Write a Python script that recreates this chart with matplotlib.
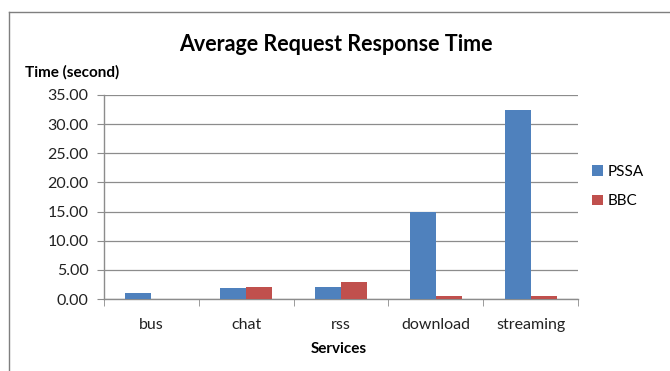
import numpy as np
import matplotlib.pyplot as plt
from matplotlib.lines import Line2D

services = ['bus', 'chat', 'rss', 'download', 'streaming']
pssa = [1.0, 1.9, 2.1, 14.9, 32.4]
bbc = [0.0, 2.1, 3.0, 0.55, 0.55]

plt.rcParams['font.family'] = ['Lato', 'DejaVu Sans']

fig = plt.figure(figsize=(6.7, 3.71), dpi=100)
ax = fig.add_axes([0.155, 0.194, 0.708, 0.550])

x = np.arange(len(services))
w = 0.275
ax.bar(x - w / 2, pssa, w, color='#4F81BD', label='PSSA', zorder=3)
ax.bar(x + w / 2, bbc, w, color='#C0504D', label='BBC', zorder=3)

ax.set_xlim(-0.5, len(services) - 0.5)
ax.set_ylim(0, 35)
ax.set_yticks(np.arange(0, 36, 5))
ax.set_yticklabels([f'{v:.2f}' for v in np.arange(0, 36, 5)], fontsize=11.5, color='#222222')
ax.yaxis.grid(True, color='#8c8c8c', linewidth=0.9, zorder=0)

ax.set_xticks(x)
ax.set_xticklabels(services, fontsize=11.5, color='#222222')
ax.set_xticks(np.arange(-0.5, len(services), 1), minor=True)
ax.tick_params(axis='x', which='major', length=0, pad=14)
ax.tick_params(axis='x', which='minor', length=5, color='#8c8c8c', direction='out')
ax.tick_params(axis='y', length=5, color='#8c8c8c', direction='out', pad=6)

for s in ['top', 'right']:
    ax.spines[s].set_visible(False)
for s in ['left', 'bottom']:
    ax.spines[s].set_color('#8c8c8c')
    ax.spines[s].set_linewidth(1.0)

fig.text(0.502, 0.88, 'Average Request Response Time', ha='center', va='center',
         fontsize=15.5, fontweight='bold')
fig.text(0.038, 0.805, 'Time (second)', ha='left', va='center', fontsize=11, fontweight='bold')
fig.text(0.506, 0.058, 'Services', ha='center', va='center', fontsize=11, fontweight='bold')

ax.legend(loc='center left', bbox_to_anchor=(1.0, 0.55), frameon=False, fontsize=11,
          handlelength=0.7, handleheight=0.7, handletextpad=0.3, labelspacing=1.0)

# outer chart frame (top and left edges visible)
fig.add_artist(Line2D([0.013, 1.0], [0.968, 0.968], transform=fig.transFigure, color='#7f7f7f', linewidth=1.0))
fig.add_artist(Line2D([0.013, 0.013], [0.0, 0.968], transform=fig.transFigure, color='#7f7f7f', linewidth=1.0))

fig.savefig('out.png', dpi=100)
